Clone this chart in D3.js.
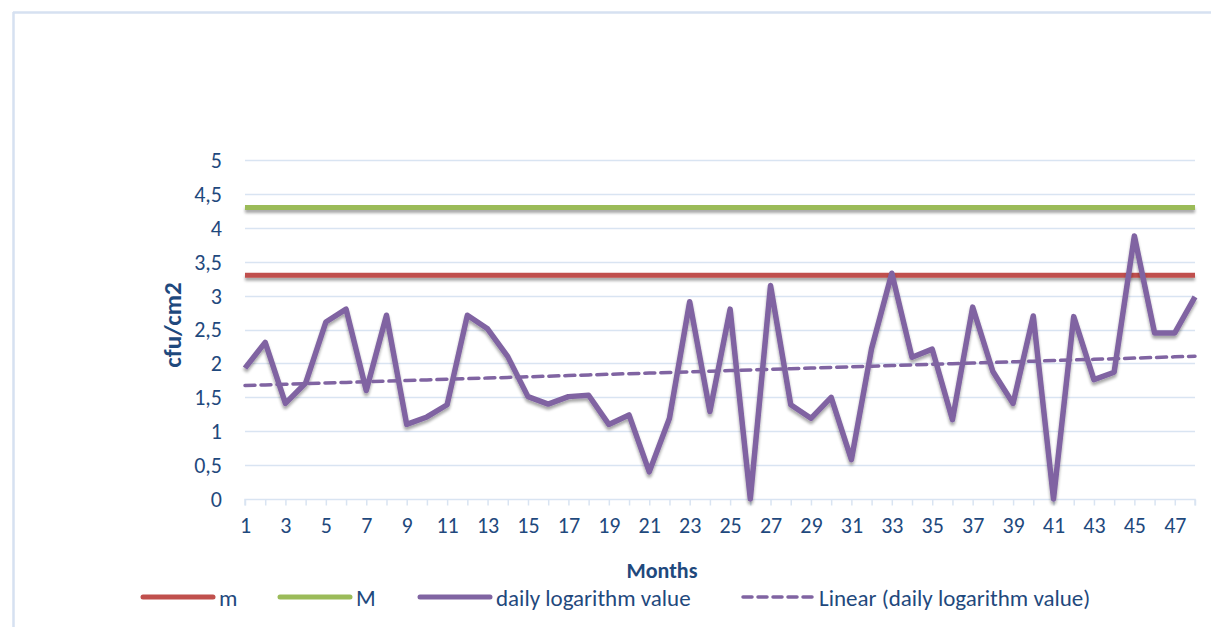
<!DOCTYPE html>
<html>
<head>
<meta charset="utf-8">
<script src="https://cdn.jsdelivr.net/npm/d3@7"></script>
<style>
  html, body { margin: 0; padding: 0; background: #fff; }
  svg { display: block; }
  text { font-family: Carlito, Lato, "Liberation Sans", sans-serif; fill: #1F497D; }
</style>
</head>
<body>
<script>
// ---- data ----
const months = d3.range(1, 49);
const dailyLog = [1.93, 2.31, 1.41, 1.71, 2.61, 2.80, 1.60, 2.71, 1.10, 1.21,
                  1.39, 2.71, 2.51, 2.10, 1.51, 1.40, 1.51, 1.53, 1.10, 1.24,
                  0.40, 1.19, 2.91, 1.29, 2.80, 0.00, 3.15, 1.39, 1.19, 1.50,
                  0.58, 2.22, 3.33, 2.09, 2.21, 1.17, 2.83, 1.88, 1.41, 2.70,
                  0.00, 2.69, 1.76, 1.87, 3.88, 2.45, 2.45, 2.98];
const mValue = 3.3;
const MValue = 4.3;
const yTicks = [0, 0.5, 1, 1.5, 2, 2.5, 3, 3.5, 4, 4.5, 5];
const seriesNames = ["m", "M", "daily logarithm value", "Linear (daily logarithm value)"];
const colors = { m: "#C0504D", M: "#9BBB59", daily: "#8064A2" };

// linear trendline (least squares) of the daily series
const mx = d3.mean(months), my = d3.mean(dailyLog);
const slope = d3.sum(months, (xv, i) => (xv - mx) * (dailyLog[i] - my)) / d3.sum(months, xv => (xv - mx) ** 2);
const intercept = my - slope * mx;
const trend = months.map(xv => intercept + slope * xv);

// ---- layout ----
const W = 1211, H = 627;
const svg = d3.select("body").append("svg").attr("width", W).attr("height", H);

const defs = svg.append("defs");
const f = defs.append("filter").attr("id", "shadow").attr("filterUnits", "userSpaceOnUse")
  .attr("x", 0).attr("y", 0).attr("width", W).attr("height", H);
f.append("feGaussianBlur").attr("in", "SourceAlpha").attr("stdDeviation", 1.6).attr("result", "b");
f.append("feOffset").attr("in", "b").attr("dx", 0).attr("dy", 3).attr("result", "o");
f.append("feComponentTransfer").attr("in", "o").attr("result", "o2")
  .append("feFuncA").attr("type", "linear").attr("slope", 0.35);
const fm = f.append("feMerge");
fm.append("feMergeNode").attr("in", "o2");
fm.append("feMergeNode").attr("in", "SourceGraphic");

// chart frame (top + left visible)
svg.append("line").attr("x1", 13).attr("x2", W).attr("y1", 12.5).attr("y2", 12.5)
  .attr("stroke", "#D6E1F1").attr("stroke-width", 2.5);
svg.append("line").attr("x1", 13.5).attr("x2", 13.5).attr("y1", 12).attr("y2", H)
  .attr("stroke", "#D6E1F1").attr("stroke-width", 2.5);

const x = d3.scaleLinear().domain([1, 48]).range([245, 1195]);
const y = d3.scaleLinear().domain([0, 5]).range([499, 160]);

// gridlines
svg.append("g").selectAll("line").data(yTicks.filter(d => d > 0)).join("line")
  .attr("x1", x(1)).attr("x2", x(48))
  .attr("y1", d => Math.round(y(d)) + 0.5).attr("y2", d => Math.round(y(d)) + 0.5)
  .attr("stroke", "#D9E4F2").attr("stroke-width", 1.5);

// y axis labels
const yAxis = d3.axisLeft(y).tickValues(yTicks).tickSize(0).tickPadding(0)
  .tickFormat(d => String(d).replace(".", ","));
const gy = svg.append("g").attr("transform", "translate(222,0)").call(yAxis);
gy.select(".domain").remove();
gy.selectAll("text").attr("font-size", 22).attr("fill", "#1F497D").attr("dy", "0.34em")
  .style("font-family", "Carlito, Lato, sans-serif");

// x axis
const xAxis = d3.axisBottom(x).tickValues(months).tickSize(6).tickPadding(12)
  .tickFormat(d => (d % 2 === 1 ? d : ""));
const gx = svg.append("g").attr("transform", `translate(0,${Math.round(y(0)) + 0.5})`).call(xAxis);
gx.select(".domain").attr("stroke", "#D9E4F2").attr("stroke-width", 1.5).attr("d", `M${x(1)},6V0H${x(48)}V6`);
gx.selectAll(".tick line").attr("stroke", "#D9E4F2").attr("stroke-width", 1.5);
gx.selectAll("text").attr("font-size", 22).attr("fill", "#1F497D")
  .style("font-family", "Carlito, Lato, sans-serif");

// reference lines m and M
const line = d3.line().x((d, i) => x(months[i])).y(d => y(d));
svg.append("path").datum(months.map(() => MValue)).attr("d", line)
  .attr("fill", "none").attr("stroke", colors.M).attr("stroke-width", 5).attr("filter", "url(#shadow)");
svg.append("path").datum(months.map(() => mValue)).attr("d", line)
  .attr("fill", "none").attr("stroke", colors.m).attr("stroke-width", 5).attr("filter", "url(#shadow)");

// daily series
svg.append("path").datum(dailyLog).attr("d", line)
  .attr("fill", "none").attr("stroke", colors.daily).attr("stroke-width", 5.5)
  .attr("stroke-linejoin", "round").attr("filter", "url(#shadow)");

// trendline
svg.append("path").datum(trend).attr("d", line)
  .attr("fill", "none").attr("stroke", colors.daily).attr("stroke-width", 3.5)
  .attr("stroke-dasharray", "10,6").attr("stroke-linecap", "round");

// axis titles
svg.append("text").attr("x", 662).attr("y", 570).attr("dy", "0.35em").attr("text-anchor", "middle")
  .attr("font-size", 22).attr("font-weight", "bold").text("Months");
svg.append("text").attr("transform", "translate(172,325) rotate(-90)").attr("dy", "0.35em").attr("text-anchor", "middle")
  .attr("font-size", 25).attr("font-weight", "bold").text("cfu/cm2");

// legend
const legendY = 598;
const legendItems = [
  { name: seriesNames[0], color: colors.m, x0: 143, dash: null, w: 5 },
  { name: seriesNames[1], color: colors.M, x0: 280, dash: null, w: 5 },
  { name: seriesNames[2], color: colors.daily, x0: 420, dash: null, w: 5 },
  { name: seriesNames[3], color: colors.daily, x0: 743, dash: "9,6", w: 3.5 }
];
const lg = svg.append("g");
legendItems.forEach(it => {
  lg.append("line").attr("x1", it.x0).attr("x2", it.x0 + 70).attr("y1", legendY - 1).attr("y2", legendY - 1)
    .attr("stroke", it.color).attr("stroke-width", it.w).attr("stroke-linecap", "round")
    .attr("stroke-dasharray", it.dash);
  lg.append("text").attr("x", it.x0 + 76).attr("y", legendY).attr("dy", "0.35em")
    .attr("font-size", 23).text(it.name);
});
</script>
</body>
</html>
